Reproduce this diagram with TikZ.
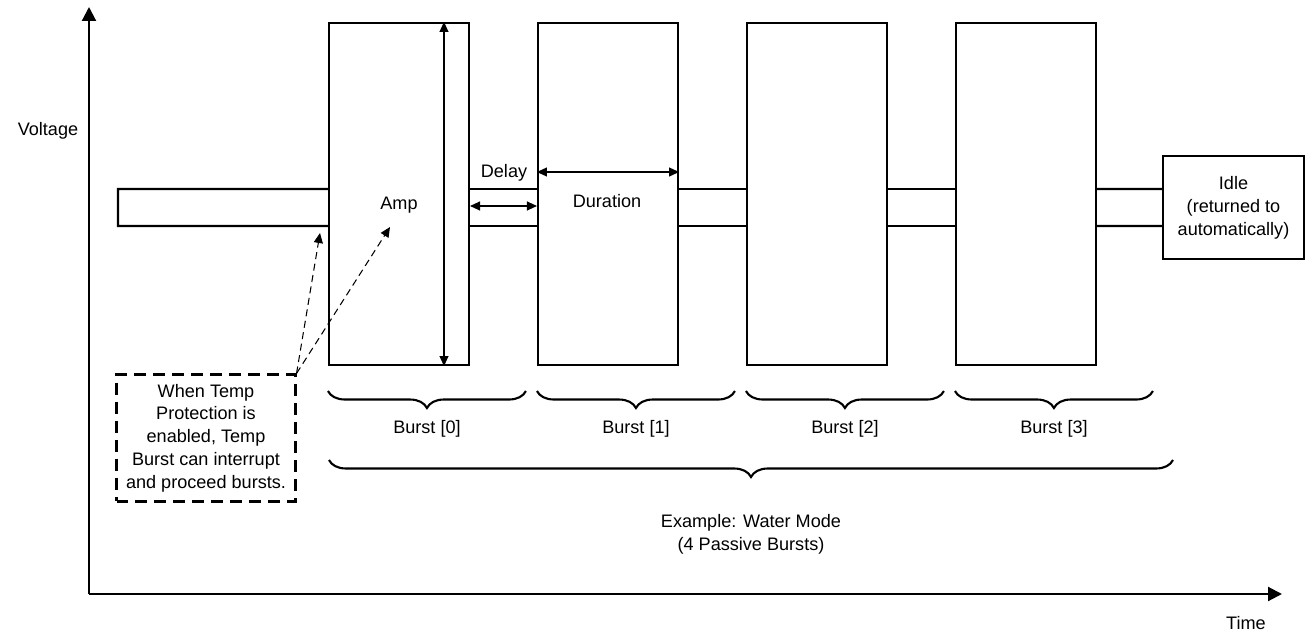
\documentclass[tikz,border=0pt]{standalone}
\usepackage{fontspec}
\setmainfont{Liberation Sans}
\usepackage{tikz}
\usetikzlibrary{arrows.meta}
\usetikzlibrary{decorations.pathreplacing}

\tikzset{
  axisline/.style={line width=1.2pt,-{Triangle[length=0.28cm,width=0.28cm]}},
  pulse/.style={line width=1.2pt},
  burstbox/.style={draw,line width=1.2pt,minimum width=2.8cm,minimum height=6.84cm,inner sep=0pt},
  dimarrow/.style={line width=0.6pt,{Triangle[length=0.2cm,width=0.18cm]}-{Triangle[length=0.2cm,width=0.18cm]}},
  pointer/.style={line width=0.6pt,dash pattern=on 4pt off 2.6pt,-{Triangle[length=0.2cm,width=0.18cm]}},
  burstbrace/.style={decorate,decoration={brace,mirror,amplitude=0.34cm},line width=1.2pt},
  txt/.style={inner sep=0pt,align=center,font=\fontsize{10.3pt}{13pt}\selectfont}
}

\begin{document}
\begin{tikzpicture}[x=0.02cm,y=-0.02cm]
      \useasboundingbox (0,0) rectangle (1306,635);
      % axes
      \coordinate (origin) at (89,594);
      \coordinate (vtop) at (89,7);
      \coordinate (tright) at (1282,594);
      \draw[axisline] (origin) -- (vtop);
      \draw[axisline] (origin) -- (tright);
      \node[txt] (voltage) at (48,131) {Voltage};
      \node[txt] (time) at (1246,623) {Time};
      % the bursts
      \foreach \i in {0,...,3} {
        \node[burstbox] (b\i) at (399+209*\i,194) {};
        \draw[burstbrace] ([yshift=-0.5cm]b\i.south west) -- ([xshift=3.96cm,yshift=-0.5cm]b\i.south west)
          node[txt,midway,yshift=-0.76cm] (blabel\i) {Burst [\i]};
      }
      % level between the bursts
      \foreach \i/\j in {0/1,1/2,2/3} {
        \draw[pulse] ([yshift=0.1cm]b\i.east) -- ([yshift=0.1cm]b\j.west);
        \draw[pulse] ([yshift=-0.64cm]b\i.east) -- ([yshift=-0.64cm]b\j.west);
      }
      % level before the first burst
      \coordinate (lvltop) at (118,189);
      \coordinate (lvlbot) at (118,226);
      \draw[pulse] ([yshift=0.1cm]b0.west) -- (lvltop) -- (lvlbot) -- ([yshift=-0.64cm]b0.west);
      % idle state
      \node[burstbox,minimum width=2.82cm,minimum height=2.06cm,txt] (idle) at (1233.5,207.5)
        {Idle\\(returned to\\automatically)};
      \draw[pulse] ([yshift=0.1cm]b3.east) -- ([yshift=0.37cm]idle.west);
      \draw[pulse] ([yshift=-0.64cm]b3.east) -- ([yshift=-0.37cm]idle.west);
      % dimensions
      \draw[dimarrow] ([xshift=0.9cm]b0.north) -- ([xshift=0.9cm]b0.south);
      \node[txt] (amp) at (399,205) {Amp};
      \draw[dimarrow] ([yshift=-0.24cm]b0.east) -- ([yshift=-0.24cm]b1.west);
      \node[txt] (delay) at (504,173) {Delay};
      \draw[dimarrow] ([yshift=0.44cm]b1.west) -- ([yshift=0.44cm]b1.east);
      \node[txt] (duration) at (607,201) {Duration};
      % whole mode
      \coordinate (model) at (329,460);
      \coordinate (moder) at (1173,460);
      \draw[burstbrace] (model) -- (moder)
        node[txt,midway,yshift=-1.48cm] (mode) {Example: Water Mode\\(4 Passive Bursts)};
      % note on temp protection
      \node[txt,draw,line width=1.2pt,dash pattern=on 6.8pt off 4pt,minimum width=3.58cm,minimum height=2.54cm]
        (note) at (206,438) {When Temp\\Protection is\\enabled, Temp\\Burst can interrupt\\and proceed bursts.};
      \coordinate (lvlhint) at (320,233);
      \coordinate (amphint) at (390,227);
      \draw[pointer] (note.north east) -- (lvlhint);
      \draw[pointer] (note.north east) -- (amphint);
    \end{tikzpicture}
\end{document}
